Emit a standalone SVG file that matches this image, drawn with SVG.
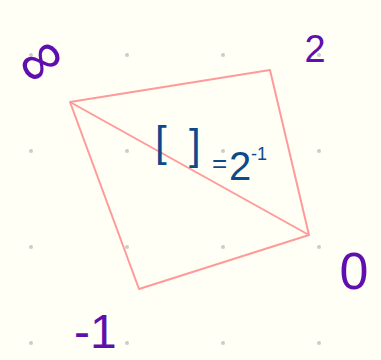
<svg xmlns="http://www.w3.org/2000/svg" width="381" height="360" viewBox="0 0 381 360">
<defs>
<style>
.dot{fill:#cccccc}
.edge{fill:none;stroke:#ff9a9a;stroke-width:2;stroke-linejoin:round}
.lbl{font-family:"Liberation Sans","DejaVu Sans",sans-serif;fill:#5f0fae}
.eq{font-family:"Liberation Sans","DejaVu Sans",sans-serif;fill:#0d4a8c}
</style>
</defs>
<rect width="381" height="360" fill="#fffff5"/>
<g id="grid">
<circle class="dot" cx="31" cy="55" r="2"/><circle class="dot" cx="127" cy="55" r="2"/><circle class="dot" cx="223" cy="55" r="2"/><circle class="dot" cx="319" cy="55" r="2"/>
<circle class="dot" cx="31" cy="151" r="2"/><circle class="dot" cx="127" cy="151" r="2"/><circle class="dot" cx="223" cy="151" r="2"/><circle class="dot" cx="319" cy="151" r="2"/>
<circle class="dot" cx="31" cy="247" r="2"/><circle class="dot" cx="127" cy="247" r="2"/><circle class="dot" cx="223" cy="247" r="2"/><circle class="dot" cx="319" cy="247" r="2"/>
<circle class="dot" cx="31" cy="343" r="2"/><circle class="dot" cx="127" cy="343" r="2"/><circle class="dot" cx="223" cy="343" r="2"/><circle class="dot" cx="319" cy="343" r="2"/>
</g>
<g id="connectors">
<polygon class="edge" points="70,102 270,70 309,235 139,289"/>
<line class="edge" x1="70" y1="102" x2="309" y2="235"/>
</g>
<g id="node-inf">
<text class="lbl" x="0" y="0" font-size="62" text-anchor="middle" dominant-baseline="central" transform="translate(39,59) rotate(-38)">∞</text>
</g>
<g id="node-2">
<text class="lbl" x="315" y="62" font-size="38" text-anchor="middle">2</text>
</g>
<g id="node-0">
<text class="lbl" x="354" y="289" font-size="52" text-anchor="middle">0</text>
</g>
<g id="node-m1">
<text class="lbl" x="74" y="348" font-size="48">-1</text>
</g>
<g id="equation">
<text class="eq" x="155" y="156" font-size="42">[</text>
<text class="eq" x="189" y="159" font-size="42">]</text>
<text class="eq" x="212" y="172" font-size="26">=</text>
<text class="eq" x="229" y="180" font-size="40">2</text>
<text class="eq" x="251" y="160" font-size="18">-1</text>
</g>
</svg>
